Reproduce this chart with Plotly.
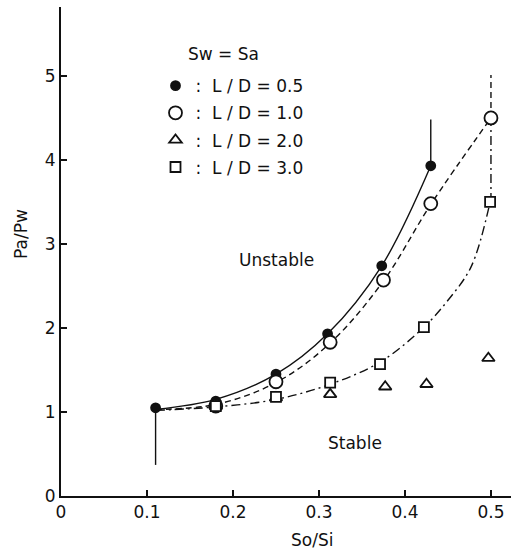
import plotly.graph_objects as go

# ---- data ----
ld05_x = [0.11, 0.18, 0.25, 0.31, 0.373, 0.43]
ld05_y = [1.05, 1.13, 1.45, 1.93, 2.74, 3.93]

ld10_x = [0.18, 0.25, 0.313, 0.375, 0.43, 0.50]
ld10_y = [1.07, 1.36, 1.83, 2.57, 3.48, 4.50]

ld20_x = [0.18, 0.25, 0.313, 0.377, 0.425, 0.497]
ld20_y = [1.07, 1.17, 1.21, 1.30, 1.33, 1.64]

ld30_x = [0.18, 0.25, 0.313, 0.371, 0.422, 0.499]
ld30_y = [1.07, 1.18, 1.35, 1.57, 2.01, 3.50]

# fitted boundary curves
c05_x = [0.11, 0.18, 0.25, 0.31, 0.373, 0.43]
c05_y = [1.03, 1.15, 1.45, 1.93, 2.74, 3.93]
c05_top_x = [0.43, 0.43]
c05_top_y = [3.93, 4.48]
c05_low_x = [0.11, 0.11]
c05_low_y = [1.05, 0.37]

c10_x = [0.11, 0.18, 0.25, 0.313, 0.375, 0.43, 0.50]
c10_y = [1.03, 1.09, 1.35, 1.82, 2.56, 3.47, 4.50]
c10_top_x = [0.50, 0.50]
c10_top_y = [4.50, 5.01]

c30_x = [0.11, 0.18, 0.25, 0.313, 0.372, 0.422, 0.45, 0.477, 0.499]
c30_y = [1.02, 1.06, 1.15, 1.33, 1.60, 2.01, 2.33, 2.73, 3.50]
c30_top_x = [0.50, 0.50]
c30_top_y = [3.50, 4.45]

x_ticks = [0, 0.1, 0.2, 0.3, 0.4, 0.5]
x_labels = ["0", "0.1", "0.2", "0.3", "0.4", "0.5"]
y_ticks = [0, 1, 2, 3, 4, 5]
y_labels = ["0", "1", "2", "3", "4", "5"]

FONT = "DejaVu Sans"
BLACK = "#111111"

fig = go.Figure()

def line(x, y, dash, shape="linear"):
    fig.add_trace(go.Scatter(x=x, y=y, mode="lines", showlegend=False,
                             line=dict(color=BLACK, width=1.4, dash=dash, shape=shape,
                                       smoothing=1.0), hoverinfo="skip"))

DASH = "6px,4px"
DASHDOT = "9px,4px,2px,4px"
line(c05_x, c05_y, "solid", "spline")
line(c05_top_x, c05_top_y, "solid")
line(c05_low_x, c05_low_y, "solid")
line(c10_x, c10_y, DASH, "spline")
line(c10_top_x, c10_top_y, DASH)
line(c30_x, c30_y, DASHDOT, "spline")
line(c30_top_x, c30_top_y, DASHDOT)

def pts(x, y, name, symbol, size, group, fill):
    fig.add_trace(go.Scatter(
        x=x, y=y, mode="markers", name=name, legendgroup=group,
        marker=dict(symbol=symbol, size=size, color=fill,
                    line=dict(color=BLACK, width=1.8))))

pts(ld05_x, ld05_y, ":  L / D = 0.5", "circle", 9, "a", BLACK)
pts(ld10_x, ld10_y, ":  L / D = 1.0", "circle", 13, "b", "white")
pts(ld20_x, ld20_y, ":  L / D = 2.0", "triangle-up", 11, "c", "white")
pts(ld30_x, ld30_y, ":  L / D = 3.0", "square", 10, "d", "white")

axis_common = dict(showline=True, linecolor=BLACK, linewidth=2, ticks="inside",
                   ticklen=6, tickwidth=1.5, tickcolor=BLACK, showgrid=False,
                   zeroline=False, tickfont=dict(family=FONT, size=17, color=BLACK))

fig.update_layout(
    width=511, height=552,
    margin=dict(l=61, r=0, t=7, b=56),
    plot_bgcolor="white", paper_bgcolor="white",
    font=dict(family=FONT, size=17, color=BLACK),
    xaxis=dict(range=[0, 0.5233], tickvals=x_ticks, ticktext=x_labels, **axis_common),
    yaxis=dict(range=[0, 5.82], tickvals=y_ticks, ticktext=y_labels, **axis_common),
    legend=dict(x=0.21, y=0.875, xanchor="left", yanchor="top",
                bgcolor="rgba(0,0,0,0)", tracegroupgap=2, itemwidth=30,
                font=dict(family=FONT, size=17, color=BLACK)),
    annotations=[
        dict(x=0.145, y=5.26, xref="x", yref="y", text="Sw = Sa", showarrow=False,
             xanchor="left", font=dict(size=17)),
        dict(x=0.251, y=2.81, xref="x", yref="y", text="Unstable", showarrow=False,
             xanchor="center", font=dict(size=17)),
        dict(x=0.342, y=0.63, xref="x", yref="y", text="Stable", showarrow=False,
             xanchor="center", font=dict(size=17)),
        dict(x=(312 - 61) / 450, y=-(540 - 496) / 489, xref="paper", yref="paper",
             text="So/Si", showarrow=False, xanchor="center", yanchor="middle",
             font=dict(size=17)),
        dict(x=-(61 - 21) / 450, y=1 - (234 - 7) / 489, xref="paper", yref="paper",
             text="Pa/Pw", showarrow=False, textangle=-90, xanchor="center",
             yanchor="middle", font=dict(size=17)),
    ],
)

fig.write_html("out.html")
